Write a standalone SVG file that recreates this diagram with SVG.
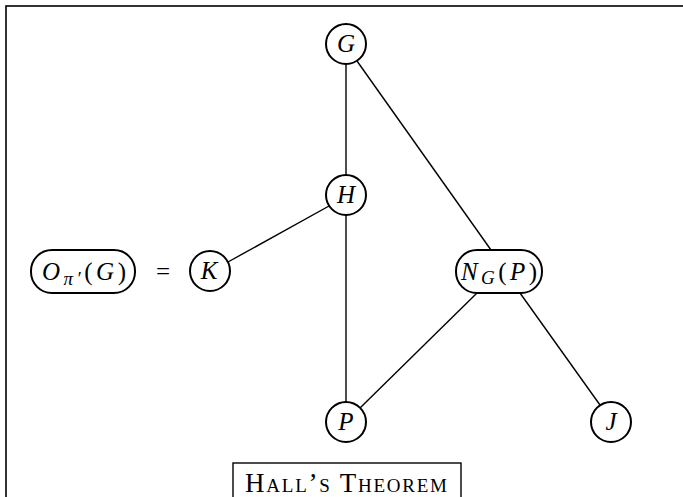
<svg xmlns="http://www.w3.org/2000/svg" width="683" height="497" viewBox="0 0 683 497">
<style>
.n{fill:#fff;stroke:#000;stroke-width:2}
.e{stroke:#000;stroke-width:1.4;fill:none}
.t{font-family:"Liberation Serif",serif;font-style:italic;font-size:25px;text-anchor:middle}
.r{font-style:normal}
</style>
<rect x="6" y="6" width="700" height="520" fill="#fff" stroke="#000" stroke-width="1.6"/>
<g id="connectors">
<line class="e" x1="346" y1="64" x2="346" y2="175"/>
<line class="e" x1="357" y1="61" x2="491" y2="250"/>
<line class="e" x1="329" y1="206" x2="228" y2="262"/>
<line class="e" x1="346" y1="215" x2="346" y2="402"/>
<line class="e" x1="477" y1="293" x2="360" y2="408"/>
<line class="e" x1="520" y1="293" x2="600" y2="405"/>
</g>
<g id="G"><circle class="n" cx="346" cy="44" r="20"/><text class="t" x="346" y="52">G</text></g>
<g id="H"><circle class="n" cx="346" cy="195" r="20"/><text class="t" x="346" y="203">H</text></g>
<g id="K"><circle class="n" cx="210" cy="271" r="20"/><text class="t" x="209" y="279">K</text></g>
<g id="P"><circle class="n" cx="346" cy="422" r="20"/><text class="t" x="346" y="430">P</text></g>
<g id="J"><circle class="n" cx="611" cy="422" r="20"/><text class="t" x="611" y="430">J</text></g>
<g id="O"><rect class="n" x="31" y="250" width="104" height="43" rx="21"/><text class="t" x="84" y="280" font-size="27" textLength="84" lengthAdjust="spacing">O<tspan font-size="19" dy="5">π′</tspan><tspan class="r" dy="-5">(</tspan>G<tspan class="r">)</tspan></text></g>
<g id="eq"><text class="t r" x="163" y="280" font-size="27">=</text></g>
<g id="N"><rect class="n" x="456" y="250" width="86" height="43" rx="21"/><text class="t" x="499" y="280" font-size="27" textLength="76" lengthAdjust="spacing">N<tspan font-size="19" dy="4">G</tspan><tspan class="r" dy="-4">(</tspan>P<tspan class="r">)</tspan></text></g>
<g id="caption"><rect x="233" y="463" width="228" height="60" fill="#fff" stroke="#000" stroke-width="1.4"/><text x="346" y="492" font-family="Liberation Serif,serif" font-size="27" font-variant="small-caps" text-anchor="middle" textLength="202" lengthAdjust="spacing">Hall’s Theorem</text></g>
</svg>
